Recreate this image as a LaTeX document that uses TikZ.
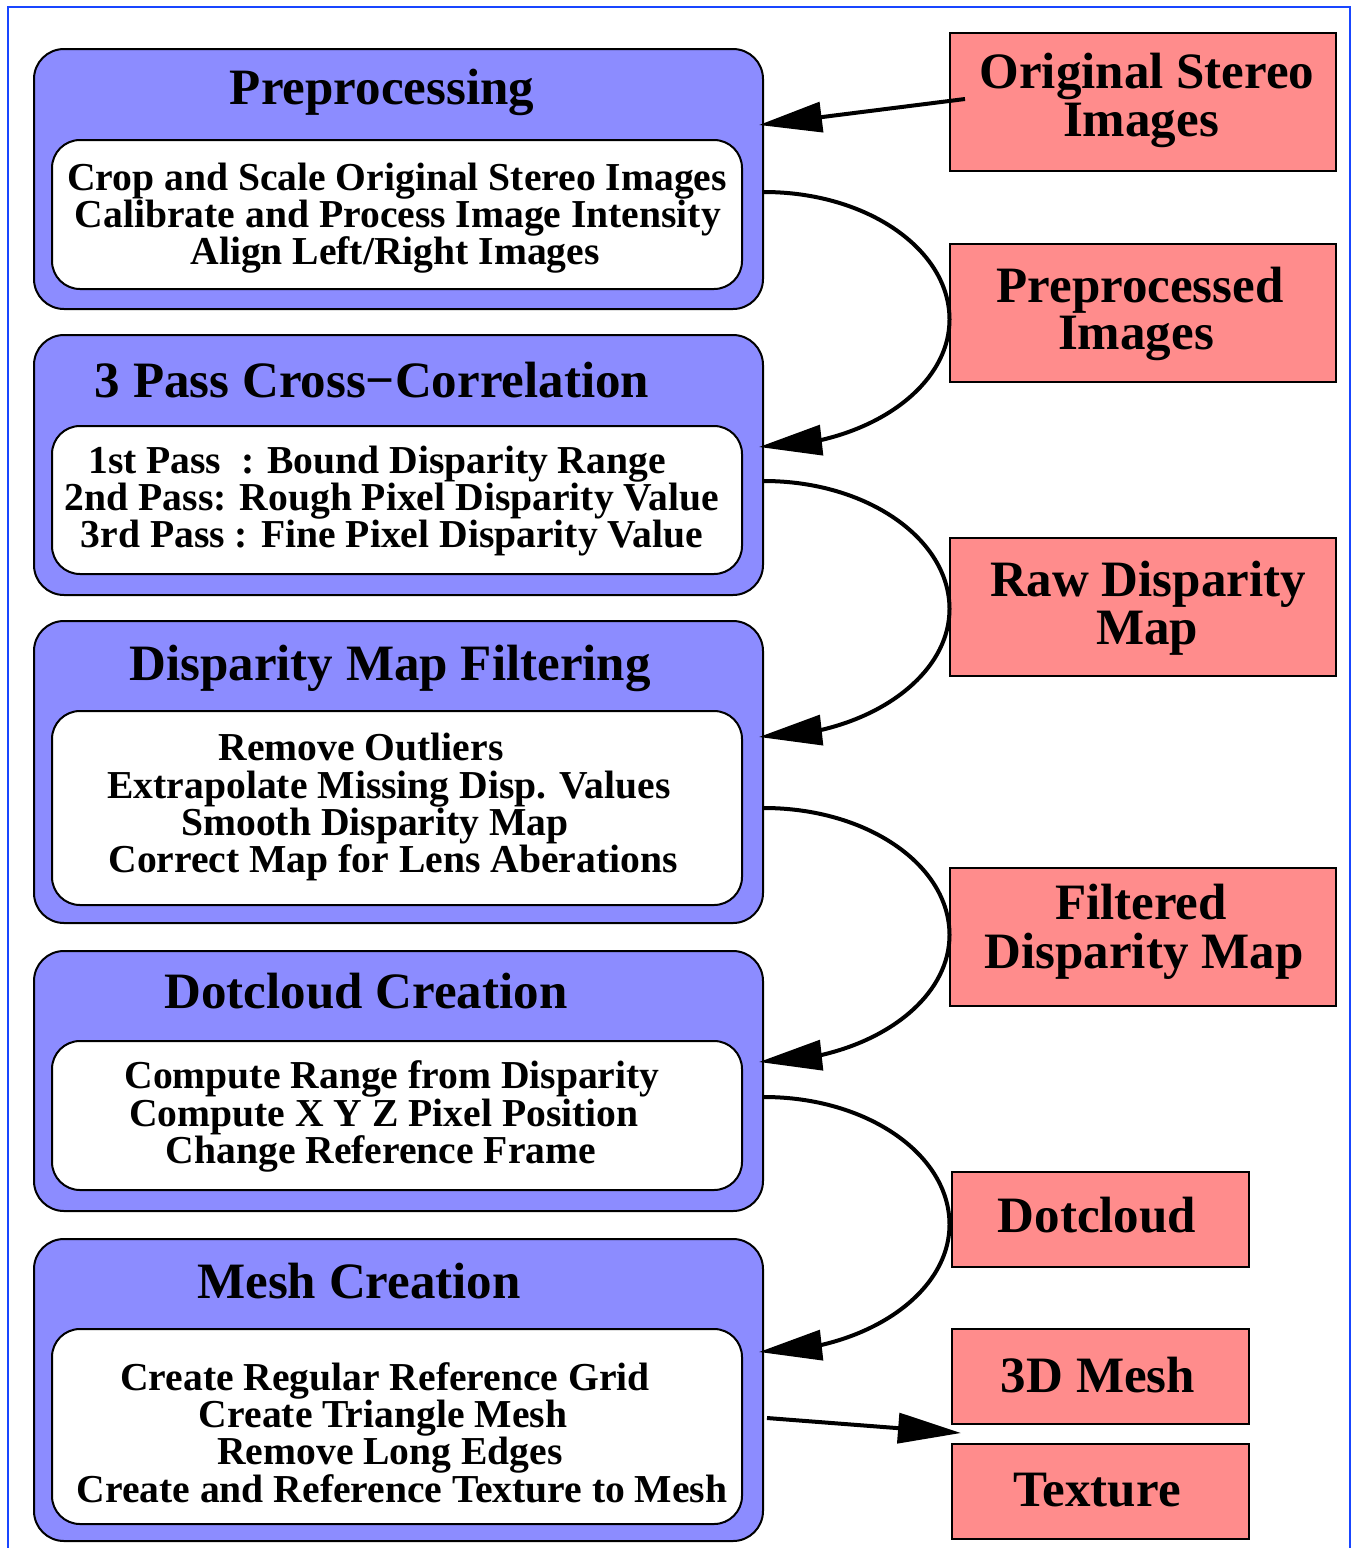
\documentclass[tikz,border=0pt]{standalone}
\usepackage{fontspec}
\setmainfont{Liberation Serif}
\usetikzlibrary{arrows.meta,calc,bending}

\definecolor{stagefill}{RGB}{140,140,255}
\definecolor{datafill}{RGB}{255,140,140}
\definecolor{framecol}{RGB}{25,70,255}

\tikzset{
  stagebox/.style={rectangle, draw=black, line width=1pt, fill=stagefill,
    rounded corners=15pt, anchor=north west, minimum width=364.5pt, inner sep=0pt},
  taskbox/.style={rectangle, draw=black, line width=1pt, fill=white,
    rounded corners=14pt, anchor=north west, minimum width=345pt, inner sep=0pt},
  databox/.style={rectangle, draw=black, line width=1pt, fill=datafill,
    anchor=north west, minimum width=193pt, minimum height=69pt, inner sep=0pt},
  smalldata/.style={databox, minimum width=148.5pt, minimum height=47.5pt},
  titletext/.style={anchor=base, inner sep=0pt,
    font=\bfseries\fontsize{25.5pt}{30pt}\selectfont},
  bodytext/.style={anchor=base, inner sep=0pt,
    font=\bfseries\fontsize{19.8pt}{23pt}\selectfont},
  flow/.style={line width=2pt, -{Triangle[length=31.5pt,width=15pt]}},
}

\begin{document}
\begin{tikzpicture}[x=0.5pt,y=-0.5pt]
\useasboundingbox (0,0) rectangle (1353,1548);

% outer frame
\draw[framecol, line width=1.25pt] (8,1570) -- (8,7) -- (1350,7) -- (1350,1570);

% processing stages
\node[stagebox, minimum height=130pt] (pre)  at (33,48)   {};
\node[stagebox, minimum height=130pt] (pass) at (33,334)  {};
\node[stagebox, minimum height=151pt] (filt) at (33,620)  {};
\node[stagebox, minimum height=130pt] (dot)  at (33,950)  {};
\node[stagebox, minimum height=151pt] (mesh) at (33,1238) {};

\node[taskbox, minimum height=74.5pt] (preT)  at (51,139)  {};
\node[taskbox, minimum height=74pt]   (passT) at (51,425)  {};
\node[taskbox, minimum height=97pt]   (filtT) at (51,710)  {};
\node[taskbox, minimum height=74.5pt] (dotT)  at (51,1040) {};
\node[taskbox, minimum height=97.5pt] (meshT) at (51,1328) {};

% stage titles
\node[titletext] (preH)  at (382,104)  {Preprocessing};
\node[titletext] (passH) at (372,397)  {3 Pass Cross−Correlation};
\node[titletext] (filtH) at (390,680)  {Disparity Map Filtering};
\node[titletext] (dotH)  at (366,1008) {Dotcloud Creation};
\node[titletext] (meshH) at (359,1298) {Mesh Creation};

% stage tasks
\node[bodytext] (pre1) at (397,190) {Crop and Scale Original Stereo Images};
\node[bodytext] (pre2) at (398,227) {Calibrate and Process Image Intensity};
\node[bodytext] (pre3) at (395,264) {Align Left/Right Images};

\node[bodytext] (pass1) at (377,473) {1st Pass\ \ : Bound Disparity Range};
\node[bodytext] (pass2) at (392,510) {2nd Pass: Rough Pixel Disparity Value};
\node[bodytext] (pass3) at (392,547) {3rd Pass : Fine Pixel Disparity Value};

\node[bodytext] (filt1) at (361,760) {Remove Outliers};
\node[bodytext] (filt2) at (389,798) {Extrapolate Missing Disp. Values};
\node[bodytext] (filt3) at (375,835) {Smooth Disparity Map};
\node[bodytext] (filt4) at (393,872) {Correct Map for Lens Aberations};

\node[bodytext] (dot1) at (392,1088) {Compute Range from Disparity};
\node[bodytext] (dot2) at (384,1126) {Compute X Y Z Pixel Position};
\node[bodytext] (dot3) at (381,1163) {Change Reference Frame};

\node[bodytext] (mesh1) at (385,1390) {Create Regular Reference Grid};
\node[bodytext] (mesh2) at (383,1427) {Create Triangle Mesh};
\node[bodytext] (mesh3) at (390,1464) {Remove Long Edges};
\node[bodytext] (mesh4) at (402,1502) {Create and Reference Texture to Mesh};

% data products
\node[databox]   (orig)    at (949,32)   {};
\node[databox]   (prepimg) at (949,243)  {};
\node[databox]   (raw)     at (949,537)  {};
\node[databox]   (filtmap) at (949,867)  {};
\node[smalldata] (cloud)   at (951,1171) {};
\node[smalldata] (mesh3d)  at (951,1328) {};
\node[smalldata] (tex)     at (951,1443) {};

\node[titletext] (orig1) at (1147,88)  {Original Stereo};
\node[titletext] (orig2) at (1141,136) {Images};
\node[titletext] (prep1) at (1140,302) {Preprocessed};
\node[titletext] (prep2) at (1136,349) {Images};
\node[titletext] (raw1)  at (1148,596) {Raw Disparity};
\node[titletext] (raw2)  at (1147,644) {Map};
\node[titletext] (fm1)   at (1141,919) {Filtered};
\node[titletext] (fm2)   at (1144,968) {Disparity Map};
\node[titletext] (cl1)   at (1097,1232) {Dotcloud};
\node[titletext] (m3d1)  at (1098,1392) {3D Mesh};
\node[titletext] (tex1)  at (1097,1506) {Texture};

% connectors
\draw[flow] ($(orig.west)+(16,-3)$) -- ($(pre.north east)+(-5,77)$);

\coordinate (c1a) at ($(pre.north east)+(0,144)$);
\coordinate (c1b) at ($(pass.north east)+(-5,113)$);
\coordinate (c1m) at ($(c1a)!0.5!(c1b)+(188,0)$);
\draw[flow] (c1a) .. controls +(103,0) and +(0,-70) .. (c1m)
                  .. controls +(0,70) and +(105,0) .. (c1b);

\coordinate (c2a) at ($(pass.north east)+(0,147)$);
\coordinate (c2b) at ($(filt.north east)+(-5,117)$);
\coordinate (c2m) at ($(c2a)!0.5!(c2b)+(188,0)$);
\draw[flow] (c2a) .. controls +(103,0) and +(0,-70) .. (c2m)
                  .. controls +(0,70) and +(105,0) .. (c2b);

\coordinate (c3a) at ($(filt.north east)+(0,188)$);
\coordinate (c3b) at ($(dot.north east)+(-5,112)$);
\coordinate (c3m) at ($(c3a)!0.5!(c3b)+(188,0)$);
\draw[flow] (c3a) .. controls +(103,0) and +(0,-70) .. (c3m)
                  .. controls +(0,70) and +(105,0) .. (c3b);

\coordinate (c4a) at ($(dot.north east)+(0,147)$);
\coordinate (c4b) at ($(mesh.north east)+(-5,114)$);
\coordinate (c4m) at ($(c4a)!0.5!(c4b)+(188,0)$);
\draw[flow] (c4a) .. controls +(103,0) and +(0,-70) .. (c4m)
                  .. controls +(0,70) and +(105,0) .. (c4b);

\draw[flow] ($(mesh.north east)+(3,180)$) -- ($(tex.north west)+(10,-10)$);
\end{tikzpicture}
\end{document}
